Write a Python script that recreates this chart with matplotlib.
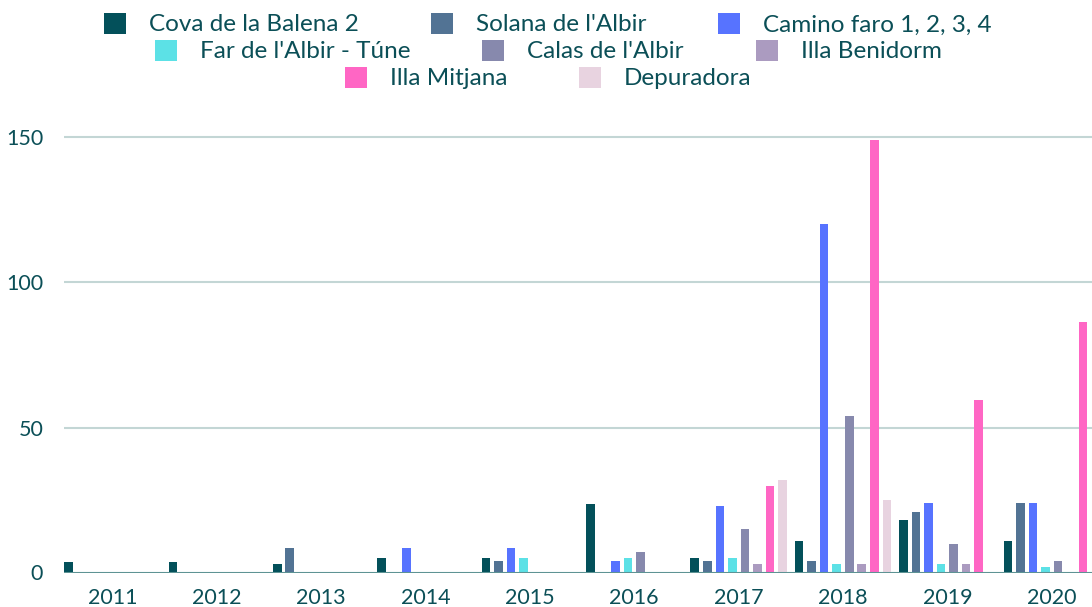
import matplotlib
matplotlib.use("Agg")
import matplotlib.pyplot as plt
from matplotlib.patches import Patch
import numpy as np

# datos por año y por punto de muestreo
years = ["2011", "2012", "2013", "2014", "2015", "2016", "2017", "2018", "2019", "2020"]
series_names = ["Cova de la Balena 2", "Solana de l'Albir", "Camino faro 1, 2, 3, 4",
                "Far de l'Albir - Túne", "Calas de l'Albir", "Illa Benidorm",
                "Illa Mitjana", "Depuradora"]
cova = [3.5, 3.5, 3, 5, 5, 23.5, 5, 11, 18, 11]
solana = [0, 0, 8.5, 0, 4, 0, 4, 4, 21, 24]
camino = [0, 0, 0, 8.5, 8.5, 4, 23, 120, 24, 24]
far = [0, 0, 0, 0, 5, 5, 5, 3, 3, 2]
calas = [0, 0, 0, 0, 0, 7, 15, 54, 10, 4]
benidorm = [0, 0, 0, 0, 0, 0, 3, 3, 3, 0]
mitjana = [0, 0, 0, 0, 0, 0, 30, 149, 59.5, 86.5]
depuradora = [0, 0, 0, 0, 0, 0, 32, 25, 0, 0]
values = [cova, solana, camino, far, calas, benidorm, mitjana, depuradora]
colors = ["#03505a", "#527394", "#5773ff", "#5ce1e6", "#8789ad", "#ab9bc0", "#ff66c4", "#e8d3e0"]

txt = "#0b4f57"
plt.rcParams['font.family'] = ['Lato', 'DejaVu Sans']

fig = plt.figure(figsize=(10.92, 6.07), dpi=100)
ax = fig.add_axes([64/1092, 34.5/607, 1 - 64/1092, 464/607])

x = np.arange(len(years))
step = 0.12
w = 0.082
for j, (vals, col) in enumerate(zip(values, colors)):
    ax.bar(x + (j - 3.5) * step, vals, width=w, color=col, zorder=3)

ax.set_xlim(-0.463, 9.386)
ax.set_ylim(0, 160)
ax.set_yticks([0, 50, 100, 150])
ax.set_xticks(x)
ax.set_xticklabels(years)
ax.tick_params(axis='both', length=0, labelsize=15.5, labelcolor=txt)
ax.tick_params(axis='x', pad=11)
ax.tick_params(axis='y', pad=15)
for s in ax.spines.values():
    s.set_visible(False)
ax.grid(axis='y', color="#c3d6d5", linewidth=1.5, zorder=0)
ax.axhline(0, color="#5e9394", linewidth=2.2, zorder=4)

# leyenda en tres filas centradas
rows = [[0, 1, 2], [3, 4, 5], [6, 7]]
ys = [1 - 24/607, 1 - 51/607, 1 - 78/607]
for r, yy in zip(rows, ys):
    handles = [Patch(facecolor=colors[k], edgecolor='none', label=series_names[k]) for k in r]
    fig.legend(handles=handles, loc='center', bbox_to_anchor=(0.502, yy), ncol=len(r),
               frameon=False, fontsize=17.5, labelcolor=txt, handlelength=0.9,
               handleheight=0.95, handletextpad=0.95, columnspacing=2.96,
               borderpad=0, borderaxespad=0)

fig.savefig("out.png", dpi=100)
